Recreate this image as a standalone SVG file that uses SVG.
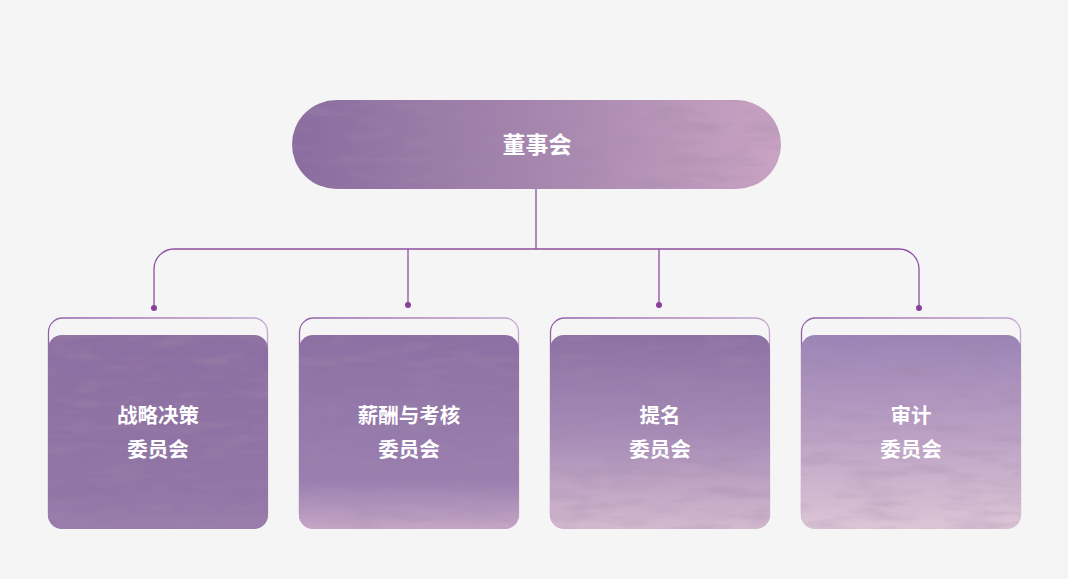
<svg xmlns="http://www.w3.org/2000/svg" width="1068" height="579" viewBox="0 0 1068 579">
  <defs>
    <style>
      .conn { fill: none; stroke: #8d4d9e; stroke-width: 1.3; }
      .dot { fill: #8a3f9b; }
      .outline { fill: none; stroke-width: 1.3; }
      .label { font-family: "Noto Sans CJK SC", "Noto Sans", sans-serif; font-weight: 700; fill: #ffffff; text-anchor: middle; }
      .t-top { font-size: 23px; }
      .t-card { font-size: 20.5px; }
    </style>
    <linearGradient id="gPill" x1="0" y1="0" x2="1" y2="0">
      <stop offset="0" stop-color="#8a6c9f"/>
      <stop offset="0.5" stop-color="#a686ae"/>
      <stop offset="1" stop-color="#c9a3c3"/>
    </linearGradient>
    <linearGradient id="gCard1" x1="0" y1="0" x2="0" y2="1">
      <stop offset="0" stop-color="#8c6fa2"/>
      <stop offset="0.8" stop-color="#9175a6"/>
      <stop offset="1" stop-color="#9a7dab"/>
    </linearGradient>
    <linearGradient id="gCard2" x1="0" y1="0" x2="0" y2="1">
      <stop offset="0" stop-color="#8c70a3"/>
      <stop offset="0.75" stop-color="#9a7fb0"/>
      <stop offset="1" stop-color="#c6a6c6"/>
    </linearGradient>
    <linearGradient id="gCard3" x1="0" y1="0" x2="0" y2="1">
      <stop offset="0" stop-color="#8c71a3"/>
      <stop offset="0.5" stop-color="#a58bb6"/>
      <stop offset="1" stop-color="#d5b9cf"/>
    </linearGradient>
    <linearGradient id="gCard4" x1="0" y1="0" x2="0" y2="1">
      <stop offset="0" stop-color="#9c84b6"/>
      <stop offset="0.5" stop-color="#bba0c4"/>
      <stop offset="1" stop-color="#dcc6d6"/>
    </linearGradient>
    <linearGradient id="gOutline" x1="0" y1="0" x2="1" y2="0">
      <stop offset="0" stop-color="#9460a8"/>
      <stop offset="1" stop-color="#c3a6cf"/>
    </linearGradient>
    <filter id="tex" x="0" y="0" width="100%" height="100%">
      <feTurbulence type="fractalNoise" baseFrequency="0.02 0.09" numOctaves="3" seed="4" result="n"/>
      <feColorMatrix in="n" type="matrix" values="0 0 0 0 0.35  0 0 0 0 0.25  0 0 0 0 0.4  0 0 0 -0.8 0.45" result="a"/>
      <feComposite in="a" in2="SourceGraphic" operator="in" result="m"/>
      <feMerge><feMergeNode in="SourceGraphic"/><feMergeNode in="m"/></feMerge>
    </filter>
  </defs>

  <rect width="1068" height="579" fill="#f5f5f5"/>

  <g id="connectors">
    <path class="conn" d="M536,189 V249"/>
    <path class="conn" d="M154,306 V269 A20,20 0 0 1 174,249 H899 A20,20 0 0 1 919,269 V306"/>
    <path class="conn" d="M408,249 V304"/>
    <path class="conn" d="M659,249 V304"/>
    <circle class="dot" cx="154" cy="308" r="3"/>
    <circle class="dot" cx="408" cy="305" r="3"/>
    <circle class="dot" cx="659" cy="305" r="3"/>
    <circle class="dot" cx="919" cy="308" r="3"/>
  </g>

  <g id="board">
    <rect x="292" y="100" width="489" height="89" rx="44.5" fill="url(#gPill)" filter="url(#tex)"/>
    <text class="label t-top" x="537" y="153">董事会</text>
  </g>

  <g id="committee-strategy">
    <rect class="outline" x="48.5" y="318" width="219" height="210" rx="14" stroke="url(#gOutline)"/>
    <rect x="48" y="335" width="220" height="194" rx="14" fill="url(#gCard1)" filter="url(#tex)"/>
    <text class="label t-card" x="158" y="423">战略决策</text>
    <text class="label t-card" x="158" y="457">委员会</text>
  </g>

  <g id="committee-compensation">
    <rect class="outline" x="299.5" y="318" width="219" height="210" rx="14" stroke="url(#gOutline)"/>
    <rect x="299" y="335" width="220" height="194" rx="14" fill="url(#gCard2)" filter="url(#tex)"/>
    <text class="label t-card" x="409" y="423">薪酬与考核</text>
    <text class="label t-card" x="409" y="457">委员会</text>
  </g>

  <g id="committee-nomination">
    <rect class="outline" x="550.5" y="318" width="219" height="210" rx="14" stroke="url(#gOutline)"/>
    <rect x="550" y="335" width="220" height="194" rx="14" fill="url(#gCard3)" filter="url(#tex)"/>
    <text class="label t-card" x="660" y="423">提名</text>
    <text class="label t-card" x="660" y="457">委员会</text>
  </g>

  <g id="committee-audit">
    <rect class="outline" x="801.5" y="318" width="219" height="210" rx="14" stroke="url(#gOutline)"/>
    <rect x="801" y="335" width="220" height="194" rx="14" fill="url(#gCard4)" filter="url(#tex)"/>
    <text class="label t-card" x="911" y="423">审计</text>
    <text class="label t-card" x="911" y="457">委员会</text>
  </g>
</svg>
